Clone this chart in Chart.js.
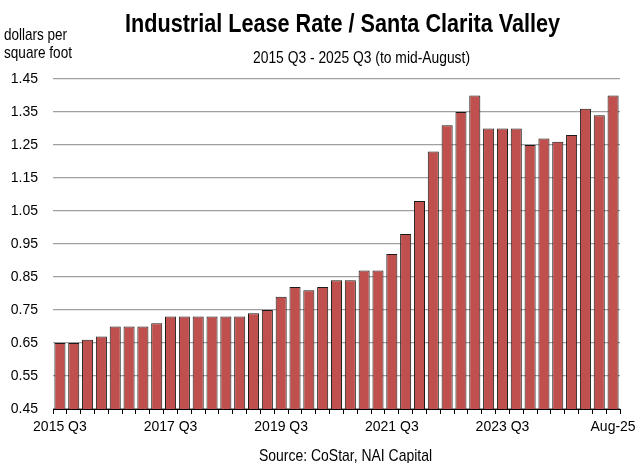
<!DOCTYPE html>
<html>
<head>
<meta charset="utf-8">
<script src="https://cdn.jsdelivr.net/npm/chart.js@4/dist/chart.umd.min.js"></script>
<style>
  html, body { margin: 0; padding: 0; background: #fff; }
  #wrap { position: relative; width: 635px; height: 463px; }
</style>
</head>
<body>
<div id="wrap"><canvas id="c" width="635" height="463"></canvas></div>
<script>
const categories = [
  "2015 Q3","2015 Q4","2016 Q1","2016 Q2","2016 Q3","2016 Q4","2017 Q1","2017 Q2",
  "2017 Q3","2017 Q4","2018 Q1","2018 Q2","2018 Q3","2018 Q4","2019 Q1","2019 Q2",
  "2019 Q3","2019 Q4","2020 Q1","2020 Q2","2020 Q3","2020 Q4","2021 Q1","2021 Q2",
  "2021 Q3","2021 Q4","2022 Q1","2022 Q2","2022 Q3","2022 Q4","2023 Q1","2023 Q2",
  "2023 Q3","2023 Q4","2024 Q1","2024 Q2","2024 Q3","2024 Q4","2025 Q1","2025 Q2",
  "Aug-25"
];
const leaseRate = [
  0.65,0.65,0.66,0.67,0.70,0.70,0.70,0.71,
  0.73,0.73,0.73,0.73,0.73,0.73,0.74,0.75,
  0.79,0.82,0.81,0.82,0.84,0.84,0.87,0.87,
  0.92,0.98,1.08,1.23,1.31,1.35,1.40,1.30,
  1.30,1.30,1.25,1.27,1.26,1.28,1.36,1.34,
  1.40
];
const shownTickLabels = ["2015 Q3","2017 Q3","2019 Q3","2021 Q3","2023 Q3","Aug-25"];
const yMin = 0.45, yMax = 1.45, yStep = 0.1;

const titleText = "Industrial Lease Rate / Santa Clarita Valley";
const subtitleText = "2015 Q3 - 2025 Q3 (to mid-August)";
const unitsLines = ["dollars per", "square foot"];
const sourceText = "Source: CoStar, NAI Capital";

const FONT = "'Liberation Sans', Arial, sans-serif";

// draw text horizontally condensed to a target width (narrow-font look)
function drawFit(ctx, text, x, y, targetW, align) {
  const w = ctx.measureText(text).width;
  const s = Math.min(1, targetW / w);
  ctx.save();
  const left = align === 'center' ? x - (w * s) / 2 : x;
  ctx.translate(left, y);
  ctx.scale(s, 1);
  ctx.textAlign = 'left';
  ctx.fillText(text, 0, 0);
  ctx.restore();
}

const textPlugin = {
  id: 'texts',
  afterDraw(chart) {
    const ctx = chart.ctx;
    ctx.save();
    ctx.fillStyle = '#000';
    ctx.textBaseline = 'alphabetic';
    ctx.font = "bold 26px " + FONT;
    drawFit(ctx, titleText, 342.5, 32, 435, 'center');
    ctx.font = "17px " + FONT;
    drawFit(ctx, subtitleText, 361.5, 63, 217, 'center');
    drawFit(ctx, sourceText, 345.5, 461, 173, 'center');
    drawFit(ctx, unitsLines[0], 4, 40, 63, 'left');
    drawFit(ctx, unitsLines[1], 4, 58, 68, 'left');
    ctx.restore();
  }
};

new Chart(document.getElementById('c'), {
  type: 'bar',
  data: {
    labels: categories,
    datasets: [{
      data: leaseRate,
      backgroundColor: '#C0504D',
      borderColor: '#1a1a1a',
      borderWidth: 1,
      borderSkipped: 'bottom',
      categoryPercentage: 1.0,
      barPercentage: 0.8
    }]
  },
  options: {
    responsive: false,
    animation: false,
    devicePixelRatio: 1,
    layout: { padding: { top: 79, right: 15, bottom: 0, left: 0 } },
    plugins: {
      legend: { display: false },
      tooltip: { enabled: false },
      title: { display: false }
    },
    scales: {
      x: {
        offset: true,
        afterFit(scale) {
          scale.height = 54;
          scale.paddingRight = 0;
          scale.paddingLeft = 0;
        },
        grid: {
          offset: true,
          display: true,
          drawOnChartArea: false,
          drawTicks: true,
          tickLength: 5,
          color: '#000',
          lineWidth: 1
        },
        border: { display: true, color: '#000', width: 1 },
        ticks: {
          autoSkip: false,
          maxRotation: 0,
          minRotation: 0,
          padding: 5,
          color: '#000',
          font: { family: FONT, size: 14 },
          callback(value, index) {
            const lab = categories[index];
            return shownTickLabels.includes(lab) ? lab : '';
          }
        }
      },
      y: {
        min: yMin,
        max: yMax,
        afterFit(scale) { scale.width = 53; },
        grid: {
          drawTicks: false,
          color: '#a0a0a0',
          lineWidth: 1.3
        },
        border: { display: false },
        ticks: {
          stepSize: yStep,
          padding: 15,
          color: '#000',
          font: { family: FONT, size: 14 },
          callback(value) { return Number(value).toFixed(2); }
        }
      }
    }
  },
  plugins: [textPlugin]
});
</script>
</body>
</html>
